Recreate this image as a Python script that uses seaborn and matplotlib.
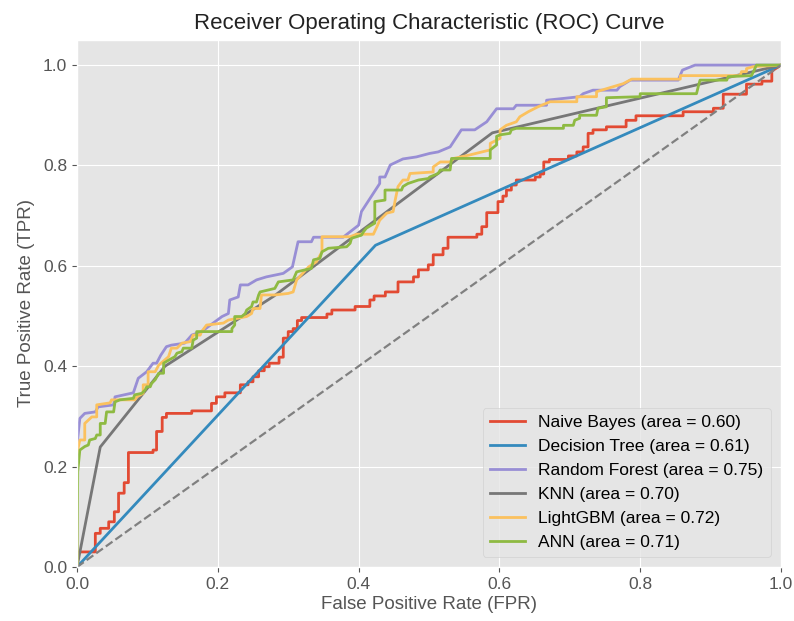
import matplotlib
matplotlib.use("Agg")
import matplotlib.pyplot as plt
import seaborn as sns
import pandas as pd

# ---- data ----
models = ["Naive Bayes", "Decision Tree", "Random Forest", "KNN", "LightGBM", "ANN"]
aucs = [0.60, 0.61, 0.75, 0.70, 0.72, 0.71]

nb_fpr = [0, 0.002, 0.026, 0.026, 0.033, 0.033, 0.045, 0.045, 0.053, 0.053, 0.059, 0.059, 0.067, 0.067,
          0.073, 0.073, 0.108, 0.108, 0.113, 0.113, 0.121, 0.121, 0.127, 0.127, 0.163, 0.163, 0.191, 0.191,
          0.198, 0.198, 0.210, 0.210, 0.232, 0.232, 0.243, 0.243, 0.250, 0.250, 0.258, 0.258, 0.266, 0.266,
          0.273, 0.273, 0.287, 0.287, 0.293, 0.293, 0.300, 0.300, 0.307, 0.307, 0.313, 0.313, 0.319, 0.319,
          0.355, 0.355, 0.362, 0.362, 0.395, 0.395, 0.416, 0.416, 0.422, 0.422, 0.438, 0.438, 0.456, 0.456,
          0.478, 0.478, 0.485, 0.485, 0.499, 0.499, 0.506, 0.506, 0.520, 0.520, 0.527, 0.527, 0.568, 0.568,
          0.575, 0.575, 0.582, 0.582, 0.598, 0.598, 0.605, 0.605, 0.610, 0.610, 0.617, 0.617, 0.624, 0.624,
          0.651, 0.651, 0.658, 0.658, 0.663, 0.663, 0.671, 0.671, 0.698, 0.698, 0.710, 0.710, 0.719, 0.719,
          0.726, 0.726, 0.733, 0.733, 0.752, 0.752, 0.780, 0.780, 0.794, 0.794, 0.861, 0.861, 0.904, 0.904,
          0.918, 0.918, 0.951, 0.951, 0.973, 0.973, 0.987, 0.987, 1.0]
nb_tpr = [0, 0.030, 0.030, 0.067, 0.067, 0.077, 0.077, 0.090, 0.090, 0.110, 0.110, 0.147, 0.147, 0.168,
          0.168, 0.228, 0.228, 0.233, 0.233, 0.270, 0.270, 0.298, 0.298, 0.306, 0.306, 0.311, 0.311, 0.326,
          0.326, 0.339, 0.339, 0.347, 0.347, 0.363, 0.363, 0.369, 0.369, 0.379, 0.379, 0.391, 0.391, 0.399,
          0.399, 0.406, 0.406, 0.418, 0.418, 0.456, 0.456, 0.469, 0.469, 0.475, 0.475, 0.491, 0.491, 0.497,
          0.497, 0.504, 0.504, 0.512, 0.512, 0.519, 0.519, 0.532, 0.532, 0.540, 0.540, 0.548, 0.548, 0.568,
          0.568, 0.578, 0.578, 0.592, 0.592, 0.602, 0.602, 0.622, 0.622, 0.635, 0.635, 0.657, 0.657, 0.663,
          0.663, 0.678, 0.678, 0.706, 0.706, 0.728, 0.728, 0.739, 0.739, 0.751, 0.751, 0.761, 0.761, 0.771,
          0.771, 0.777, 0.777, 0.783, 0.783, 0.807, 0.807, 0.812, 0.812, 0.819, 0.819, 0.827, 0.827, 0.837,
          0.837, 0.864, 0.864, 0.871, 0.871, 0.877, 0.877, 0.890, 0.890, 0.899, 0.899, 0.907, 0.907, 0.914,
          0.914, 0.942, 0.942, 0.962, 0.962, 0.968, 0.968, 0.988, 1.0]

dt_fpr = [0, 0.424, 1.0]
dt_tpr = [0, 0.641, 1.0]

rf_fpr = [0, 0.0, 0.001, 0.004, 0.011, 0.026, 0.030, 0.052, 0.054, 0.080, 0.087, 0.099, 0.108, 0.113, 0.119,
          0.127, 0.134, 0.153, 0.163, 0.177, 0.206, 0.215, 0.217, 0.229, 0.232, 0.243, 0.255, 0.269, 0.293,
          0.306, 0.314, 0.333, 0.336, 0.378, 0.400, 0.404, 0.430, 0.430, 0.4375, 0.445, 0.463, 0.482, 0.501,
          0.513, 0.530, 0.546, 0.565, 0.582, 0.596, 0.620, 0.624, 0.667, 0.667, 0.714, 0.719, 0.733, 0.767,
          0.771, 0.786, 0.854, 0.860, 0.878, 1.0]
rf_tpr = [0, 0.24, 0.256, 0.296, 0.306, 0.309, 0.319, 0.323, 0.339, 0.347, 0.376, 0.389, 0.406, 0.406, 0.422,
          0.439, 0.442, 0.446, 0.462, 0.469, 0.499, 0.505, 0.532, 0.538, 0.562, 0.562, 0.572, 0.578, 0.585,
          0.598, 0.648, 0.648, 0.657, 0.657, 0.681, 0.708, 0.764, 0.777, 0.777, 0.801, 0.813, 0.817, 0.824,
          0.827, 0.837, 0.871, 0.871, 0.887, 0.913, 0.913, 0.920, 0.920, 0.930, 0.937, 0.943, 0.950, 0.950,
          0.957, 0.970, 0.970, 0.990, 1.0, 1.0]

knn_fpr = [0, 0.033, 0.125, 0.280, 0.590, 1.0]
knn_tpr = [0, 0.239, 0.400, 0.540, 0.865, 1.0]

lgb_fpr = [0, 0.0, 0.001, 0.004, 0.011, 0.011, 0.021, 0.028, 0.028, 0.047, 0.049, 0.082, 0.085, 0.094,
           0.094, 0.101, 0.101, 0.111, 0.116, 0.130, 0.134, 0.142, 0.149, 0.161, 0.165, 0.175, 0.177, 0.184,
           0.208, 0.215, 0.241, 0.248, 0.250, 0.260, 0.262, 0.281, 0.300, 0.307, 0.312, 0.329, 0.340, 0.348,
           0.348, 0.388, 0.397, 0.421, 0.426, 0.430, 0.440, 0.449, 0.452, 0.456, 0.463, 0.470, 0.473, 0.506,
           0.506, 0.516, 0.530, 0.535, 0.558, 0.587, 0.587, 0.601, 0.601, 0.610, 0.624, 0.629, 0.641, 0.655,
           0.672, 0.710, 0.710, 0.738, 0.738, 0.776, 0.788, 0.857, 0.857, 0.942, 0.944, 0.951, 0.951, 0.961,
           1.0]
lgb_tpr = [0, 0.20, 0.233, 0.253, 0.253, 0.286, 0.299, 0.299, 0.323, 0.327, 0.333, 0.333, 0.339, 0.346,
           0.363, 0.363, 0.389, 0.389, 0.402, 0.419, 0.436, 0.436, 0.446, 0.449, 0.462, 0.462, 0.469, 0.482,
           0.486, 0.492, 0.499, 0.505, 0.515, 0.515, 0.542, 0.542, 0.545, 0.548, 0.572, 0.598, 0.608, 0.628,
           0.658, 0.658, 0.663, 0.663, 0.678, 0.691, 0.705, 0.708, 0.731, 0.758, 0.771, 0.771, 0.784, 0.787,
           0.797, 0.807, 0.807, 0.814, 0.821, 0.831, 0.844, 0.854, 0.871, 0.880, 0.887, 0.897, 0.907, 0.917,
           0.927, 0.927, 0.937, 0.937, 0.947, 0.963, 0.972, 0.972, 0.979, 0.979, 0.987, 0.987, 0.993, 0.997,
           1.0]

ann_fpr = [0, 0.0, 0.001, 0.004, 0.011, 0.016, 0.018, 0.026, 0.028, 0.033, 0.033, 0.040, 0.042, 0.052, 0.054,
           0.061, 0.080, 0.082, 0.092, 0.097, 0.099, 0.104, 0.106, 0.111, 0.116, 0.123, 0.123, 0.130, 0.139,
           0.142, 0.149, 0.151, 0.163, 0.165, 0.170, 0.170, 0.220, 0.220, 0.224, 0.224, 0.234, 0.239, 0.241,
           0.248, 0.250, 0.255, 0.258, 0.260, 0.281, 0.286, 0.307, 0.312, 0.333, 0.336, 0.345, 0.348, 0.357,
           0.383, 0.388, 0.390, 0.404, 0.407, 0.411, 0.418, 0.423, 0.423, 0.4375, 0.4375, 0.461, 0.463, 0.470,
           0.485, 0.499, 0.501, 0.513, 0.516, 0.530, 0.532, 0.587, 0.587, 0.596, 0.596, 0.601, 0.615, 0.617,
           0.624, 0.691, 0.691, 0.705, 0.707, 0.714, 0.714, 0.738, 0.740, 0.752, 0.752, 0.800, 0.800, 0.880,
           0.883, 0.885, 0.923, 0.925, 0.958, 0.961, 0.965, 1.0]
ann_tpr = [0, 0.0, 0.190, 0.233, 0.240, 0.243, 0.253, 0.256, 0.263, 0.263, 0.286, 0.286, 0.309, 0.309, 0.329,
           0.333, 0.336, 0.343, 0.346, 0.353, 0.359, 0.359, 0.366, 0.373, 0.386, 0.386, 0.406, 0.412, 0.419,
           0.426, 0.429, 0.436, 0.436, 0.452, 0.456, 0.469, 0.469, 0.475, 0.482, 0.499, 0.499, 0.505, 0.512,
           0.519, 0.528, 0.528, 0.542, 0.548, 0.555, 0.568, 0.572, 0.588, 0.595, 0.612, 0.615, 0.628, 0.635,
           0.638, 0.645, 0.655, 0.661, 0.668, 0.675, 0.681, 0.685, 0.728, 0.731, 0.751, 0.751, 0.758, 0.764,
           0.771, 0.774, 0.777, 0.784, 0.791, 0.791, 0.814, 0.814, 0.831, 0.841, 0.858, 0.861, 0.864, 0.871,
           0.874, 0.874, 0.880, 0.880, 0.890, 0.894, 0.900, 0.900, 0.914, 0.917, 0.935, 0.937, 0.943, 0.943,
           0.960, 0.970, 0.970, 0.977, 0.979, 0.987, 1.0, 1.0]

curves = [(nb_fpr, nb_tpr), (dt_fpr, dt_tpr), (rf_fpr, rf_tpr),
          (knn_fpr, knn_tpr), (lgb_fpr, lgb_tpr), (ann_fpr, ann_tpr)]
colors = ["#E24A33", "#348ABD", "#988ED5", "#777777", "#FBC15E", "#8EBA42"]

# ---- plot ----
plt.style.use("ggplot")
plt.rcParams["font.family"] = ["Liberation Sans", "DejaVu Sans"]

fig = plt.figure(figsize=(7.94, 6.21), dpi=100)
ax = fig.add_axes([0.097, 0.087, 0.8866, 0.8486])

for name, auc, (fx, ty), col in zip(models, aucs, curves, colors):
    df = pd.DataFrame({"fpr": fx, "tpr": ty})
    sns.lineplot(data=df, x="fpr", y="tpr", ax=ax, sort=False, estimator=None,
                 color=col, lw=2, label=f"{name} (area = {auc:.2f})")

diag = pd.DataFrame({"fpr": [0, 1], "tpr": [0, 1]})
sns.lineplot(data=diag, x="fpr", y="tpr", ax=ax, sort=False, estimator=None,
             color="gray", lw=1.6, linestyle="--")

ax.set_xlim(0, 1.0)
ax.set_ylim(0, 1.05)
ax.set_xticks([0, 0.2, 0.4, 0.6, 0.8, 1.0])
ax.set_yticks([0, 0.2, 0.4, 0.6, 0.8, 1.0])
ax.tick_params(labelsize=12.5)
ax.set_xlabel("False Positive Rate (FPR)", fontsize=13.5, labelpad=3)
ax.set_ylabel("True Positive Rate (TPR)", fontsize=13.5, labelpad=6)
ax.set_title("Receiver Operating Characteristic (ROC) Curve", fontsize=16, color="#222222", pad=8)
leg = ax.legend(loc="lower right", fontsize=12.5, borderaxespad=0.6)

fig.savefig("out.png", dpi=100)
